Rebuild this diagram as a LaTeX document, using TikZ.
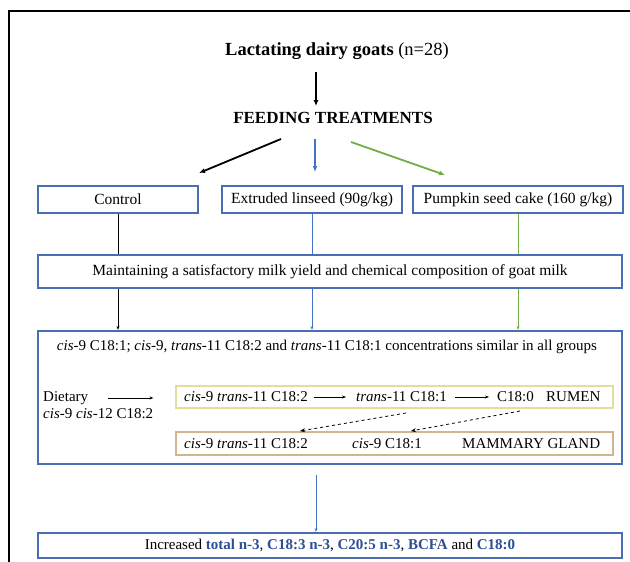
\documentclass[tikz,border=0pt]{standalone}
\usepackage{fontspec}
\setmainfont{Liberation Serif}
\usetikzlibrary{arrows.meta}

\definecolor{azul}{HTML}{4A6DB3}
\definecolor{azulseta}{HTML}{4472C4}
\definecolor{verde}{HTML}{70AD47}
\definecolor{amarelo}{HTML}{E4DE9E}
\definecolor{marrom}{HTML}{D2B48E}
\definecolor{azulescuro}{HTML}{2E4E96}

\tikzset{
	caixa/.style={draw=azul, line width=2.2pt, inner sep=0pt},
	texto/.style={inner sep=0pt, font=\fontsize{15.5}{17}\selectfont},
	textop/.style={inner sep=0pt, font=\fontsize{15}{17}\selectfont},
	seta/.style={-{Latex[length=6pt,width=5pt]}, line width=1.3pt},
	setafina/.style={-{Stealth[length=4pt,width=3pt]}, line width=0.7pt},
	tracejado/.style={-{Stealth[length=5pt,width=4pt]}, dashed, line width=0.8pt}
}

\begin{document}
\begin{tikzpicture}[x=1pt,y=-1pt] %Desenho em pixels
	\useasboundingbox (0,0) rectangle (630,562);
	\clip (0,0) rectangle (630,562);
	\draw[line width=2pt] (9,11) rectangle (700,620); %Moldura
	
	%Titulos
	\node[texto, font=\fontsize{18.5}{20}\selectfont] (goats) at (337,51) {\textbf{Lactating dairy goats} (n=28)};
	\node[texto, font=\fontsize{17}{19}\selectfont\bfseries] (feeding) at (333,118) {FEEDING TREATMENTS};
	\coordinate (eixo) at (316,0);
	\draw[seta, shorten <=12pt, shorten >=6pt] (goats.south -| eixo) -- (feeding.north -| eixo);
	
	%Tratamentos
	\node[caixa, texto, minimum width=160pt, minimum height=27pt] (control) at (118,199.5) {Control};
	\node[caixa, texto, minimum width=180pt, minimum height=27pt] (linseed) at (312,199.5) {Extruded linseed (90g/kg)};
	\node[caixa, texto, minimum width=210pt, minimum height=27pt] (pumpkin) at (518,199.5) {Pumpkin seed cake (160 g/kg)};
	
	\coordinate (pe) at (281,139); \coordinate (pc) at (199,173);
	\coordinate (le) at (315,139); \coordinate (lc) at (315,172);
	\coordinate (ve) at (351,142); \coordinate (vc) at (445,175);
	\draw[seta, line width=1.8pt] (pe) -- (pc);
	\draw[seta, azulseta] (le) -- (lc);
	\draw[seta, verde, line width=1.8pt] (ve) -- (vc);
	
	\node[caixa, texto, minimum width=584pt, minimum height=33pt] (maintain) at (330,271.5) {Maintaining a satisfactory milk yield and chemical composition of goat milk};
	\draw[line width=0.7pt] (control.south) -- (control.south |- maintain.north);
	\draw[line width=0.7pt, azulseta] (linseed.south) -- (linseed.south |- maintain.north);
	\draw[line width=0.7pt, verde] (pumpkin.south) -- (pumpkin.south |- maintain.north);
	
	%Caixa grande
	\node[caixa, minimum width=584pt, minimum height=133pt] (result) at (330,397.5) {};
	\draw[setafina] (maintain.south -| control.south) -- (result.north -| control.south);
	\draw[setafina, azulseta] (maintain.south -| linseed.south) -- (result.north -| linseed.south);
	\draw[setafina, verde] (maintain.south -| pumpkin.south) -- (result.north -| pumpkin.south);
	
	\node[textop] (similar) at (327,347) {\textit{cis}-9 C18:1; \textit{cis}-9, \textit{trans}-11 C18:2 and \textit{trans}-11 C18:1 concentrations similar in all groups};
	
	\node[textop, anchor=west] (dietary) at (43,398) {Dietary};
	\node[textop, anchor=west] (dietary2) at (43,414) {\textit{cis}-9 \textit{cis}-12 C18:2};
	
	\node[draw=amarelo, line width=1.2pt, minimum width=437pt, minimum height=22pt] (rumen) at (394.5,397) {};
	\node[draw=marrom, line width=1.2pt, minimum width=437pt, minimum height=23pt] (mammary) at (394.5,443.5) {};
	\draw[setafina, line width=1pt, shorten <=20pt, shorten >=22pt] (dietary.east) -- (dietary.east -| rumen.west);
	
	%Rumen
	\node[textop, anchor=west] (r1) at (184,397) {\textit{cis}-9 \textit{trans}-11 C18:2};
	\node[textop, anchor=west] (r2) at (356,397) {\textit{trans}-11 C18:1};
	\node[textop, anchor=west] (r3) at (497,397) {C18:0};
	\node[textop, anchor=west] (r4) at (546,397) {RUMEN};
	\draw[setafina, line width=1pt, shorten <=6pt, shorten >=10pt] (r1.east) -- (r2.west);
	\draw[setafina, line width=1pt, shorten <=8pt, shorten >=8pt] (r2.east) -- (r3.west);
	
	%Glandula
	\node[textop, anchor=west] (m1) at (184,443.5) {\textit{cis}-9 \textit{trans}-11 C18:2};
	\node[textop, anchor=west] (m2) at (352,443.5) {\textit{cis}-9 C18:1};
	\node[textop, anchor=west] (m3) at (462,443.5) {MAMMARY GLAND};
	\coordinate (d1a) at (406,413); \coordinate (d1b) at (300,431);
	\coordinate (d2a) at (520,411); \coordinate (d2b) at (411,431);
	\draw[tracejado] (d1a) -- (d1b);
	\draw[tracejado] (d2a) -- (d2b);
	
	%Resultado
	\node[caixa, textop, minimum width=584pt, minimum height=25pt] (increased) at (330,545.5) {Increased \textcolor{azulescuro}{\textbf{total n-3}}, \textcolor{azulescuro}{\textbf{C18:3 n-3}}, \textcolor{azulescuro}{\textbf{C20:5 n-3}}, \textcolor{azulescuro}{\textbf{BCFA}} and \textcolor{azulescuro}{\textbf{C18:0}}};
	\draw[setafina, azulseta, line width=1pt, shorten <=10pt] (result.south -| eixo) -- (increased.north -| eixo);
\end{tikzpicture}
\end{document}
